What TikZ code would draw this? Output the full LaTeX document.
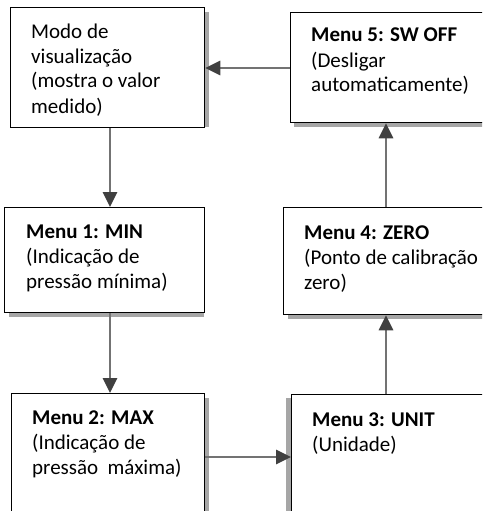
\documentclass[tikz,border=0pt]{standalone}
\usepackage{fontspec}
\setmainfont{Carlito}
\usetikzlibrary{arrows.meta}
\begin{document}
\begin{tikzpicture}[x=1pt,y=-1pt,
  box/.style={draw=black,line width=1.3pt,fill=white,anchor=north west,inner sep=0pt},
  shade/.style={fill=black!35},
  lbl/.style={anchor=base west,inner sep=0pt,font=\fontsize{21}{25}\selectfont},
  arr/.style={draw=black!55,line width=2.8pt,-{Triangle[length=15pt,width=14pt,color=black!75]}}
]
\useasboundingbox (0,0) rectangle (482,511);
\clip (0,0) rectangle (482,511);
% shadows
\fill[shade] (204,12) rectangle (209,127);
\fill[shade] (294,122) rectangle (490,127);
\fill[shade] (9,312) rectangle (204,317);
\fill[shade] (288,314) rectangle (490,319);
\fill[shade] (204,398) rectangle (209,520);
\fill[shade] (286,398) rectangle (291,520);
% boxes
\node[box,minimum width=194pt,minimum height=120pt] (b1) at (10,7) {};
\node[box,minimum width=200pt,minimum height=110pt] (b5) at (290,12) {};
\node[box,minimum width=200pt,minimum height=105pt] (m1) at (4,207) {};
\node[box,minimum width=207pt,minimum height=107pt] (m4) at (283,207) {};
\node[box,minimum width=193pt,minimum height=127pt] (m2) at (11,393) {};
\node[box,minimum width=199pt,minimum height=126pt] (m3) at (291,394) {};
% texts
\node[lbl] (t1) at (31,38) {\parbox[t]{180pt}{\raggedright Modo de\\visualização\\(mostra o valor\\medido)}};
\node[lbl] (t5) at (311,42) {\parbox[t]{180pt}{\raggedright \textbf{Menu 5: SW OFF}\\(Desligar\\automaticamente)}};
\node[lbl] (tm1) at (26,238) {\parbox[t]{180pt}{\raggedright \textbf{Menu 1: MIN}\\(Indicação de\\pressão mínima)}};
\node[lbl] (tm4) at (304,239) {\parbox[t]{190pt}{\raggedright \textbf{Menu 4: ZERO}\\(Ponto de calibração\\zero)}};
\node[lbl] (tm2) at (32,424) {\parbox[t]{180pt}{\raggedright \textbf{Menu 2: MAX}\\(Indicação de\\pressão\hspace{0.45em}máxima)}};
\node[lbl] (tm3) at (312,426) {\parbox[t]{180pt}{\raggedright \textbf{Menu 3: UNIT}\\(Unidade)}};
% connectors
\draw[arr] (b5.west |- 0,68) -- (b1.east |- 0,68);
\draw[arr] (b1.south -| 110,0) -- (m1.north -| 110,0);
\draw[arr] (m1.south -| 110,0) -- (m2.north -| 110,0);
\draw[arr] (m2.east |- 0,457) -- (m3.west |- 0,457);
\draw[arr] (m3.north -| 386,0) -- (m4.south -| 386,0);
\draw[arr] (m4.north -| 386,0) -- (b5.south -| 386,0);
\end{tikzpicture}
\end{document}
